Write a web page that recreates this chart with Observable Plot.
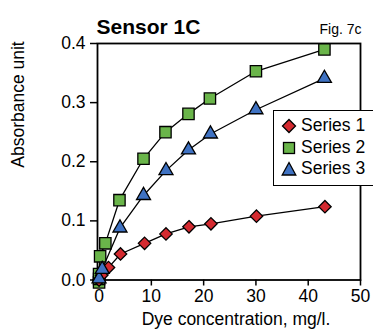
<!DOCTYPE html>
<html><head><meta charset="utf-8">
<script src="https://cdn.jsdelivr.net/npm/d3@7"></script>
<script src="https://cdn.jsdelivr.net/npm/@observablehq/plot@0.6"></script>
<style>
body{margin:0;background:#fff;overflow:hidden;font-family:"Liberation Sans",Arial,sans-serif}
#wrap{position:relative;width:373px;height:332px;overflow:hidden;background:#fff}
#legend{position:absolute;left:273px;top:110px;width:120px;height:76px;background:#fff;border:1.6px solid #000;box-sizing:border-box}
.row{position:absolute;left:0;height:20px;line-height:20px;font-size:17.5px;white-space:nowrap;color:#000}
.row svg{position:absolute;left:6px;top:2px}
.row span{position:absolute;left:27px;top:0}
</style></head>
<body><div id="wrap"></div>
<script>
const seriesNames = ["Series 1", "Series 2", "Series 3"];
const colors = ["#d42a30", "#6ab54a", "#3f72c2"];
const s1x = [0, 0.5, 1.8, 4.1, 8.7, 12.8, 17.2, 21.4, 30.1, 43.2];
const s1y = [0, 0.008, 0.021, 0.044, 0.062, 0.078, 0.090, 0.095, 0.108, 0.124];
const s2x = [0, 0, 0, 0.2, 1.2, 3.9, 8.5, 12.7, 17.1, 21.2, 30.0, 43.1];
const s2y = [-0.004, 0.002, 0.010, 0.040, 0.062, 0.135, 0.205, 0.250, 0.281, 0.307, 0.353, 0.390];
const s3x = [0, 0.6, 4.0, 8.5, 12.8, 17.1, 21.3, 30.0, 43.1];
const s3y = [0.002, 0.018, 0.088, 0.143, 0.185, 0.220, 0.247, 0.288, 0.341];
const xTicks = [0, 10, 20, 30, 40, 50];
const yTicks = [0, 0.1, 0.2, 0.3, 0.4];

const rows = (name, xs, ys) => xs.map((x, i) => ({series: name, x, y: ys[i]}));
const d1 = rows(seriesNames[0], s1x, s1y);
const d2 = rows(seriesNames[1], s2x, s2y);
const d3s = rows(seriesNames[2], s3x, s3y);

const font = "Liberation Sans, Arial, sans-serif";
const plot = Plot.plot({
  width: 373, height: 332,
  marginLeft: 97, marginRight: 13, marginTop: 43, marginBottom: 52.5,
  style: {fontFamily: font, fontSize: "17px", color: "#000", background: "transparent", overflow: "visible"},
  x: {domain: [-0.3, 50]},
  y: {domain: [0, 0.4]},
  marks: [
    Plot.axisX({ticks: xTicks, tickSize: 6, tickPadding: 4, label: null, fontSize: 17.5, strokeWidth: 1.5}),
    Plot.axisY({ticks: yTicks, tickFormat: ".1f", tickSize: 7, tickPadding: 5, label: null, fontSize: 17.5, strokeWidth: 1.5}),
    Plot.frame({stroke: "#000", strokeWidth: 1.8}),
    Plot.line(d2, {x: "x", y: "y", stroke: "#000", strokeWidth: 1.3}),
    Plot.line(d1, {x: "x", y: "y", stroke: "#000", strokeWidth: 1.3}),
    Plot.line(d3s, {x: "x", y: "y", stroke: "#000", strokeWidth: 1.3}),
    Plot.dot(d2, {x: "x", y: "y", symbol: "square", r: 6.4, fill: colors[1], stroke: "#000", strokeWidth: 1.3}),
    Plot.dot(d1, {x: "x", y: "y", symbol: "diamond2", r: 5.6, fill: colors[0], stroke: "#000", strokeWidth: 1.3}),
    Plot.dot(d3s, {x: "x", y: "y", symbol: "triangle", r: 5.2, fill: colors[2], stroke: "#000", strokeWidth: 1.3}),
    Plot.text(["Sensor 1C"], {frameAnchor: "top-left", textAnchor: "start", lineAnchor: "bottom", dx: -1, dy: -10, fontSize: 21, fontWeight: "bold"}),
    Plot.text(["Fig. 7c"], {frameAnchor: "top-right", textAnchor: "end", lineAnchor: "bottom", dx: 1, dy: -10, fontSize: 14}),
    Plot.text(["Absorbance unit"], {frameAnchor: "left", rotate: -90, dx: -79, dy: 6, fontSize: 17.5}),
    Plot.text(["Dye concentration, mg/l."], {frameAnchor: "bottom", dx: 7, dy: 45, fontSize: 17.5})
  ]
});
const wrap = document.getElementById("wrap");
wrap.appendChild(plot);

// legend
const legend = document.createElement("div");
legend.id = "legend";
const symSvg = [
  `<svg width="18" height="18"><path d="M9,2.5L15.5,9L9,15.5L2.5,9Z" fill="${colors[0]}" stroke="#000" stroke-width="1.3"/></svg>`,
  `<svg width="18" height="18"><rect x="3.5" y="3.5" width="11" height="11" fill="${colors[1]}" stroke="#000" stroke-width="1.3"/></svg>`,
  `<svg width="18" height="18"><path d="M9,2.5L15.8,15L2.2,15Z" fill="${colors[2]}" stroke="#000" stroke-width="1.3"/></svg>`
];
const rowTops = [4, 26, 47];
seriesNames.forEach((name, i) => {
  const r = document.createElement("div");
  r.className = "row";
  r.style.top = rowTops[i] + "px";
  r.innerHTML = symSvg[i] + `<span>${name}</span>`;
  legend.appendChild(r);
});
wrap.appendChild(legend);
</script>
</body></html>
